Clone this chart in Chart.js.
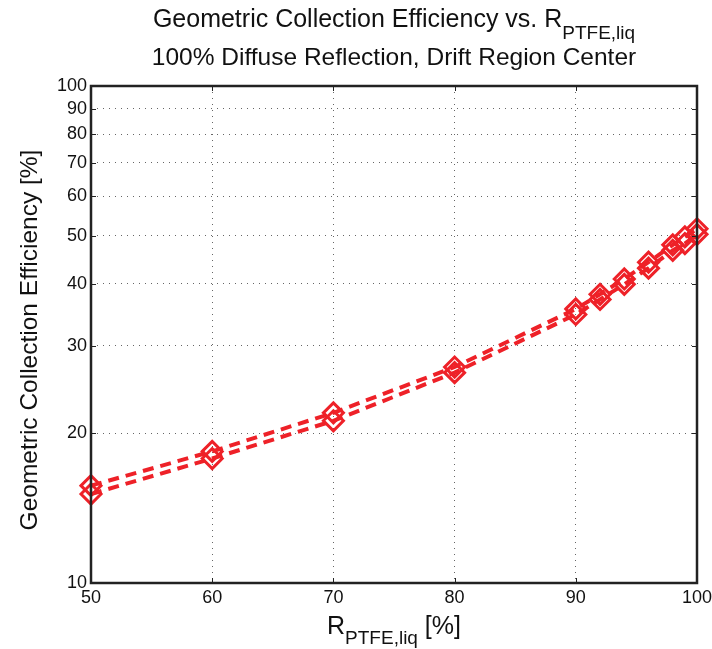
<!DOCTYPE html>
<html>
<head>
<meta charset="utf-8">
<script src="https://cdn.jsdelivr.net/npm/chart.js@4.4.1/dist/chart.umd.min.js"></script>
<style>
html,body{margin:0;padding:0;background:#fff;}
#wrap{width:712px;height:649px;position:relative;}
</style>
</head>
<body>
<div id="wrap"><canvas id="c" width="712" height="649"></canvas></div>
<script>
const reflectivity = [50, 60, 70, 80, 90, 92, 94, 96, 98, 99, 100];
const efficiencyUpper = [15.7, 18.4, 22.0, 27.2, 35.6, 38.1, 40.9, 44.2, 47.9, 49.7, 51.6];
const efficiencyLower = [15.1, 17.8, 21.2, 26.5, 34.7, 37.2, 39.9, 43.0, 46.7, 48.2, 50.3];
const xTicks = [50, 60, 70, 80, 90, 100];
const yTicks = [10, 20, 30, 40, 50, 60, 70, 80, 90, 100];
const titleMain = "Geometric Collection Efficiency vs. R";
const titleSub = "PTFE,liq";
const titleLine2 = "100% Diffuse Reflection, Drift Region Center";
const xLabelMain = "R";
const xLabelSub = "PTFE,liq";
const xLabelTail = " [%]";
const yLabel = "Geometric Collection Efficiency [%]";

const RED = '#ee2128';
const FONT = '"Liberation Sans", Arial, Helvetica, sans-serif';

function mkData(arr){ return reflectivity.map((x,i)=>({x:x, y:arr[i]})); }

const ds = (label, arr) => ({
  label: label,
  data: mkData(arr),
  borderColor: RED,
  backgroundColor: RED,
  borderWidth: 4,
  borderDash: [11, 7],
  borderCapStyle: 'butt',
  tension: 0,
  fill: false,
  pointStyle: 'rectRot',
  pointRadius: 10,
  pointHoverRadius: 10,
  pointBorderWidth: 3,
  pointBorderColor: RED,
  pointBackgroundColor: 'rgba(0,0,0,0)',
  clip: false
});

const decor = {
  id: 'decor',
  afterDraw(chart){
    const ctx = chart.ctx;
    const a = chart.chartArea;
    const xs = chart.scales.x, ys = chart.scales.y;
    ctx.save();
    ctx.strokeStyle = '#222';
    ctx.lineWidth = 1;
    ctx.beginPath();
    xTicks.forEach(v=>{
      const px = Math.round(xs.getPixelForValue(v)) + 0.5;
      ctx.moveTo(px, a.bottom); ctx.lineTo(px, a.bottom - 5);
      ctx.moveTo(px, a.top); ctx.lineTo(px, a.top + 5);
    });
    yTicks.forEach(v=>{
      const py = Math.round(ys.getPixelForValue(v)) + 0.5;
      ctx.moveTo(a.left, py); ctx.lineTo(a.left + 5, py);
      ctx.moveTo(a.right, py); ctx.lineTo(a.right - 5, py);
    });
    ctx.stroke();
    ctx.strokeStyle = '#222';
    ctx.lineWidth = 2.5;
    ctx.strokeRect(a.left, a.top, a.right - a.left, a.bottom - a.top);

    ctx.fillStyle = '#111';
    ctx.textBaseline = 'alphabetic';
    const cx = (a.left + a.right) / 2;
    ctx.font = '25px ' + FONT;
    const w1 = ctx.measureText(titleMain).width;
    ctx.font = '19px ' + FONT;
    const w1s = ctx.measureText(titleSub).width;
    let sx = cx - (w1 + w1s) / 2;
    ctx.font = '25px ' + FONT;
    ctx.textAlign = 'left';
    ctx.fillText(titleMain, sx, 27);
    ctx.font = '19px ' + FONT;
    ctx.fillText(titleSub, sx + w1, 39);
    ctx.font = '24.5px ' + FONT;
    ctx.textAlign = 'center';
    ctx.fillText(titleLine2, cx, 65);
    ctx.textAlign = 'left';
    ctx.font = '25px ' + FONT;
    const wm = ctx.measureText(xLabelMain).width;
    const wt = ctx.measureText(xLabelTail).width;
    ctx.font = '19px ' + FONT;
    const ws = ctx.measureText(xLabelSub).width;
    let lx = cx - (wm + ws + wt) / 2;
    ctx.font = '25px ' + FONT;
    ctx.fillText(xLabelMain, lx, 634);
    ctx.font = '19px ' + FONT;
    ctx.fillText(xLabelSub, lx + wm, 644);
    ctx.font = '25px ' + FONT;
    ctx.fillText(xLabelTail, lx + wm + ws, 634);
    ctx.save();
    ctx.translate(37, 340);
    ctx.rotate(-Math.PI / 2);
    ctx.textAlign = 'center';
    ctx.font = '24.5px ' + FONT;
    ctx.fillText(yLabel, 0, 0);
    ctx.restore();
    ctx.restore();
  }
};

new Chart(document.getElementById('c'), {
  type: 'line',
  data: { datasets: [ ds('upper', efficiencyUpper), ds('lower', efficiencyLower) ] },
  options: {
    responsive: false,
    animation: false,
    layout: { padding: { left: 0, right: 0, top: 86, bottom: 0 } },
    plugins: { legend: { display: false }, title: { display: false }, tooltip: { enabled: false } },
    scales: {
      x: {
        type: 'linear',
        min: 50, max: 100,
        afterBuildTicks(s){ s.ticks = xTicks.map(v=>({value:v})); },
        afterFit(s){ s.height = 66; s.paddingRight = 15; },
        grid: { display: true, color: 'rgba(0,0,0,0.6)', lineWidth: 1, drawTicks: false },
        border: { display: false, dash: [1, 5] },
        ticks: { color: '#111', font: { family: FONT, size: 18 }, padding: 4, maxRotation: 0, autoSkip: false,
                 callback: v => String(v) }
      },
      y: {
        type: 'logarithmic',
        min: 10, max: 100,
        afterBuildTicks(s){ s.ticks = yTicks.map(v=>({value:v, major: true})); },
        afterFit(s){ s.width = 91; },
        grid: { display: true, color: 'rgba(0,0,0,0.6)', lineWidth: 1, drawTicks: false },
        border: { display: false, dash: [1, 5] },
        ticks: { color: '#111', font: { family: FONT, size: 18 }, padding: 4, autoSkip: false,
                 callback: v => String(v) }
      }
    }
  },
  plugins: [decor]
});
</script>
</body>
</html>
